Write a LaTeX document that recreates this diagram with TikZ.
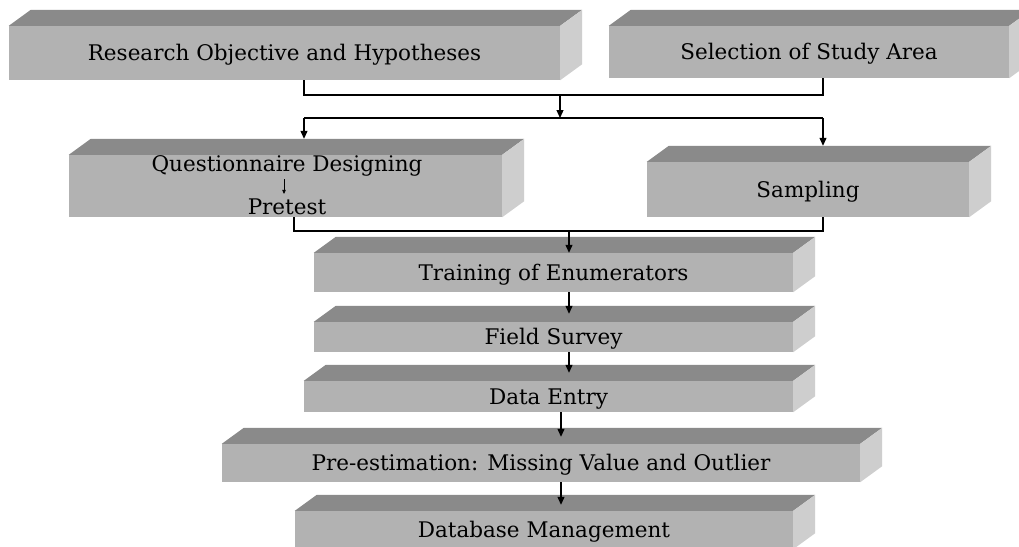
\documentclass[tikz,border=0pt]{standalone}
\usepackage{fontspec}
\setmainfont{DejaVu Serif}
\usetikzlibrary{arrows.meta,calc}
\definecolor{frontc}{RGB}{178,178,178}
\definecolor{topc}{RGB}{138,138,138}
\definecolor{sidec}{RGB}{206,206,206}
\tikzset{
  box/.style={rectangle, fill=frontc, inner sep=0pt, align=center,
    text height=15.7pt, text depth=0pt,
    font=\fontsize{21.5}{26}\selectfont},
  topface/.style={fill=topc},
  sideface/.style={fill=sidec},
  conn/.style={line width=1.2pt, black},
  arr/.style={line width=1.2pt, black, -{Triangle[length=8pt,width=7pt]}},
  smallarr/.style={line width=0.8pt, black, -{Triangle[length=4pt,width=3.5pt]}},
  lbl/.style={inner sep=0pt, text height=15.7pt, text depth=0pt,
    font=\fontsize{21.5}{26}\selectfont}
}
\newcommand{\cuboidfaces}[1]{%
  \fill[topface] (#1.north west) -- ++(22,-16) -- ($(#1.north east)+(22,-16)$) -- (#1.north east) -- cycle;
  \fill[sideface] (#1.north east) -- ++(22,-16) -- ($(#1.south east)+(22,-16)$) -- (#1.south east) -- cycle;
}
\begin{document}
\begin{tikzpicture}[x=1pt,y=-1pt]
\useasboundingbox (0,0) rectangle (1019,546);
\clip (0,0) rectangle (1019,546);
\fill[white] (0,0) rectangle (1019,546);

% boxes (front faces)
\node[box, minimum width=551pt, minimum height=54pt] (b1) at (284.5,53) {Research Objective and Hypotheses};
\node[box, minimum width=400pt, minimum height=52pt] (b2) at (809,52) {Selection of Study Area};
\node[box, minimum width=433pt, minimum height=62pt] (b3) at (285.5,186) {};
\node[box, minimum width=322pt, minimum height=55pt] (b4) at (808,189.5) {Sampling};
\node[box, minimum width=479pt, minimum height=39pt] (b5) at (553.5,272.5) {Training of Enumerators};
\node[box, minimum width=479pt, minimum height=30pt] (b6) at (553.5,337) {Field Survey};
\node[box, minimum width=489pt, minimum height=31pt] (b7) at (548.5,396.5) {Data Entry};
\node[box, minimum width=638pt, minimum height=38pt] (b8) at (541,463) {Pre-estimation: Missing Value and Outlier};
\node[box, minimum width=498pt, minimum height=38pt] (b9) at (544,530) {Database Management};

\cuboidfaces{b1}
\cuboidfaces{b2}
\cuboidfaces{b3}
\cuboidfaces{b4}
\cuboidfaces{b5}
\cuboidfaces{b6}
\cuboidfaces{b7}
\cuboidfaces{b8}
\cuboidfaces{b9}

% texts inside the questionnaire box
\node[lbl] (q1) at (287,164) {Questionnaire Designing};
\node[lbl] (q2) at (287,207) {Pretest};
\draw[smallarr] ($(q1.south)+(-3,7)$) -- ($(q2.north)+(-3,-5)$);

% first junction
\coordinate (j1) at (304,95);
\coordinate (j2) at (823,95);
\coordinate (m1) at (560,95);
\coordinate (m2) at (560,118);
\draw[conn] (b1.south -| j1) -- (j1) -- (j2) -- (b2.south -| j2);
\draw[arr] (m1) -- (m2);

% split
\coordinate (s1) at (304,118);
\coordinate (s2) at (823,118);
\draw[conn] (s1) -- (s2);
\draw[arr] (s1) -- ($(b3.north -| s1)+(0,-16)$);
\draw[arr] (s2) -- ($(b4.north -| s2)+(0,-16)$);

% second junction
\coordinate (k1) at (294,231);
\coordinate (k2) at (823,231);
\coordinate (k3) at (569,231);
\draw[conn] (b3.south -| k1) -- (k1) -- (k2) -- (b4.south -| k2);
\draw[arr] (k3) -- (b5.north -| k3);

% chain
\coordinate (x1) at (569,0);
\coordinate (x2) at (561,0);
\draw[arr] (b5.south -| x1) -- ($(b6.north -| x1)+(0,-8)$);
\draw[arr] (b6.south -| x1) -- ($(b7.north -| x1)+(0,-8)$);
\draw[arr] (b7.south -| x2) -- ($(b8.north -| x2)+(0,-7)$);
\draw[arr] (b8.south -| x2) -- ($(b9.north -| x2)+(0,-6)$);
\end{tikzpicture}
\end{document}
